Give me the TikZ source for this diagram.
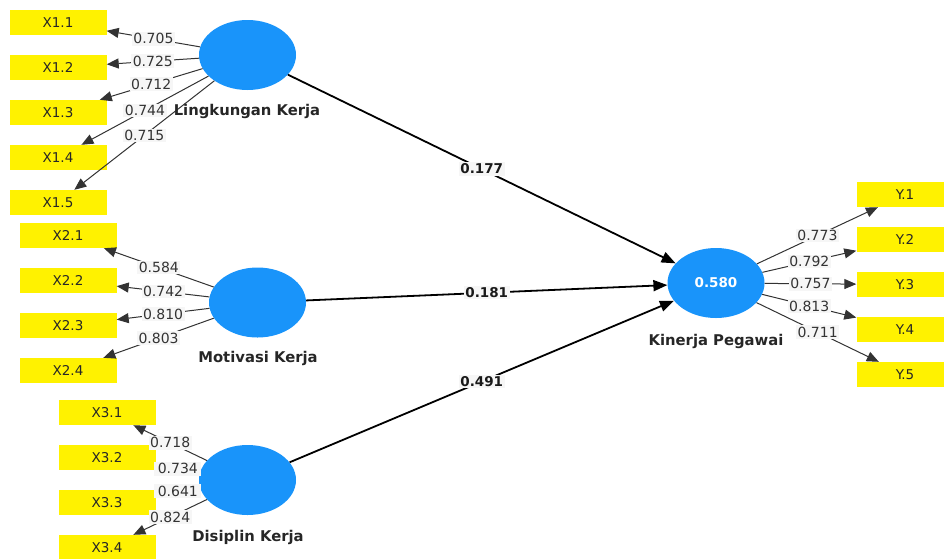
\documentclass[tikz,border=0pt]{standalone}
\usepackage{fontspec}
\setmainfont{DejaVu Sans}
\usetikzlibrary{arrows.meta,shapes.geometric}
\definecolor{cblue}{RGB}{25,148,250}
\definecolor{labbg}{RGB}{246,246,246}
\begin{document}
\begin{tikzpicture}[x=1pt,y=-1pt,
 ind/.style={fill=yellow, minimum width=97pt, minimum height=25pt, inner sep=0pt, font=\fontsize{13.5}{13.5}\selectfont, text=black!85},
 lat/.style={ellipse, fill=cblue, minimum width=97pt, minimum height=70pt, inner sep=0pt},
 latlab/.style={font=\bfseries\fontsize{14.8}{15}\selectfont, text=black!85},
 load/.style={draw=black!80, line width=1pt, -{Triangle[length=12pt,width=10pt]}},
 strpath/.style={draw=black, line width=1.8pt, -{Triangle[length=14pt,width=11pt]}},
 wlab/.style={fill=labbg, inner sep=1.5pt, font=\fontsize{14}{14}\selectfont, text=black!80},
 plab/.style={fill=labbg, inner sep=1.5pt, font=\bfseries\fontsize{13.5}{13.5}\selectfont, text=black!90},
]
\useasboundingbox (0,0) rectangle (944,558);

% indicators
\node[ind] (x11) at (58,22.5) {X1.1};
\node[ind] (x12) at (58,67.5) {X1.2};
\node[ind] (x13) at (58,112.5) {X1.3};
\node[ind] (x14) at (58,157.5) {X1.4};
\node[ind] (x15) at (58,202.5) {X1.5};
\node[ind] (x21) at (68,235.5) {X2.1};
\node[ind] (x22) at (68,280.5) {X2.2};
\node[ind] (x23) at (68,325.5) {X2.3};
\node[ind] (x24) at (68,370.5) {X2.4};
\node[ind] (x31) at (107,412.5) {X3.1};
\node[ind] (x32) at (107,457.5) {X3.2};
\node[ind] (x33) at (107,502.5) {X3.3};
\node[ind] (x34) at (107,547.5) {X3.4};
\node[ind] (y1) at (905,194.5) {Y.1};
\node[ind] (y2) at (905,239.5) {Y.2};
\node[ind] (y3) at (905,284.5) {Y.3};
\node[ind] (y4) at (905,329.5) {Y.4};
\node[ind] (y5) at (905,374.5) {Y.5};

% latent variables
\node[lat] (lk) at (247.5,55) {};
\node[lat] (mk) at (257.5,302.5) {};
\node[lat] (dk) at (247.5,480) {};
\node[lat, font=\bfseries\fontsize{13.5}{13.5}\selectfont, text=white] (kp) at (716,283) {0.580};

% loadings
\draw[load] (lk) -- (x11) node[wlab,midway] {0.705};
\draw[load] (lk) -- (x12) node[wlab,midway] {0.725};
\draw[load] (lk) -- (x13) node[wlab,midway] {0.712};
\draw[load] (lk) -- (x14) node[wlab,midway] {0.744};
\draw[load] (lk) -- (x15) node[wlab,midway] {0.715};
\draw[load] (mk) -- (x21) node[wlab,midway] {0.584};
\draw[load] (mk) -- (x22) node[wlab,midway] {0.742};
\draw[load] (mk) -- (x23) node[wlab,midway] {0.810};
\draw[load] (mk) -- (x24) node[wlab,midway] {0.803};
\draw[load] (dk) -- (x31) node[wlab,midway] {0.718};
\draw[load] (dk) -- (x32) node[wlab,midway,inner xsep=3.5pt] {0.734};
\draw[load] (dk) -- (x33) node[wlab,midway,inner xsep=3.5pt] {0.641};
\draw[load] (dk) -- (x34) node[wlab,midway] {0.824};
\draw[load] (kp) -- (y1) node[wlab,midway] {0.773};
\draw[load] (kp) -- (y2) node[wlab,midway] {0.792};
\draw[load] (kp) -- (y3) node[wlab,midway] {0.757};
\draw[load] (kp) -- (y4) node[wlab,midway] {0.813};
\draw[load] (kp) -- (y5) node[wlab,midway] {0.711};

% structural paths
\draw[strpath] (lk) -- (kp) node[plab,midway] {0.177};
\draw[strpath] (mk) -- (kp) node[plab,midway] {0.181};
\draw[strpath] (dk) -- (kp) node[plab,midway] {0.491};

% construct names
\node[latlab] (lkn) at (247,111) {Lingkungan Kerja};
\node[latlab] (mkn) at (258,358) {Motivasi Kerja};
\node[latlab] (dkn) at (248,537) {Disiplin Kerja};
\node[latlab] (kpn) at (716,341) {Kinerja Pegawai};
\end{tikzpicture}
\end{document}
